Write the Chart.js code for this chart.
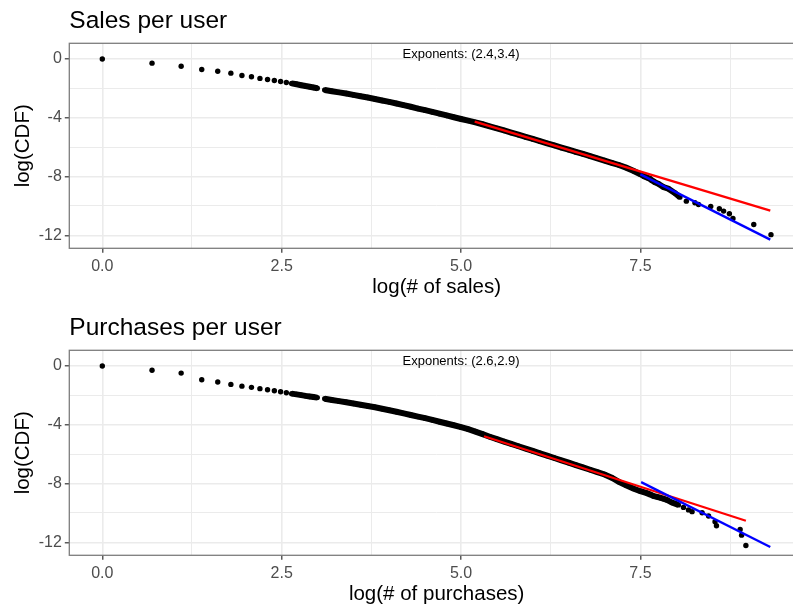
<!DOCTYPE html>
<html>
<head>
<meta charset="utf-8">
<script src="https://cdn.jsdelivr.net/npm/chart.js@4/dist/chart.umd.min.js"></script>
<style>
  html, body { margin: 0; padding: 0; background: #fff; overflow: hidden; }
  #wrap { position: relative; width: 793px; height: 607px; overflow: hidden; }
  canvas { position: absolute; left: 0; }
</style>
</head>
<body>
<div id="wrap">
  <canvas id="sales" width="820" height="300" style="top:0px"></canvas>
  <canvas id="purchases" width="820" height="300" style="top:307px"></canvas>
</div>
<script>
// log(# of sales) vs log(CDF)
const salesX = [0, 0.693, 1.099, 1.386, 1.609, 1.792, 1.946, 2.079, 2.197, 2.303, 2.398, 2.485,
  2.565, 2.639, 2.708, 2.773, 2.833, 2.890, 2.944, 2.996,
  3.1, 3.2, 3.3, 3.4, 3.5, 3.6, 3.7, 3.8, 3.9, 4.0, 4.1, 4.2, 4.3, 4.4, 4.5, 4.6, 4.7, 4.8, 4.9,
  5.0, 5.1, 5.2, 5.3, 5.4, 5.5, 5.6, 5.7, 5.8, 5.9, 6.0, 6.1, 6.2, 6.3, 6.4, 6.5, 6.6, 6.7, 6.8, 6.9,
  7.0, 7.1, 7.2, 7.3, 7.4, 7.5,
  7.55, 7.59, 7.63, 7.66, 7.70, 7.75, 7.82, 7.89, 7.98, 8.05, 8.14, 8.26, 8.31, 8.48, 8.60, 8.66,
  8.74, 8.79, 9.08, 9.32];
const salesY = [0, -0.28, -0.49, -0.71, -0.83, -0.96, -1.12, -1.21, -1.32, -1.39, -1.46, -1.53,
  -1.60, -1.66, -1.72, -1.78, -1.84, -1.89, -1.94, -1.99,
  -2.11, -2.19, -2.27, -2.35, -2.44, -2.53, -2.62, -2.72, -2.82, -2.92, -3.03, -3.14, -3.25, -3.37,
  -3.48, -3.60, -3.72, -3.84, -3.96,
  -4.08, -4.19, -4.31, -4.44, -4.58, -4.72, -4.86, -5.01, -5.15, -5.30, -5.44, -5.59, -5.74, -5.88,
  -6.03, -6.17, -6.32, -6.46, -6.61, -6.76,
  -6.91, -7.06, -7.21, -7.39, -7.60, -7.84,
  -7.98, -8.06, -8.14, -8.26, -8.38, -8.49, -8.71, -8.83, -9.12, -9.40, -9.67, -9.78, -9.90, -10.03,
  -10.19, -10.35, -10.53, -10.85, -11.26, -11.95];
const salesRedX = [5.19, 9.31];
const salesRedY = [-4.26, -10.31];
const salesBlueX = [7.50, 9.31];
const salesBlueY = [-7.85, -12.29];

// log(# of purchases) vs log(CDF)
const purchX = [0, 0.693, 1.099, 1.386, 1.609, 1.792, 1.946, 2.079, 2.197, 2.303, 2.398, 2.485,
  2.565, 2.639, 2.708, 2.773, 2.833, 2.890, 2.944, 2.996,
  3.1, 3.2, 3.3, 3.4, 3.5, 3.6, 3.7, 3.8, 3.9, 4.0, 4.1, 4.2, 4.3, 4.4, 4.5, 4.6, 4.7, 4.8, 4.9,
  5.0, 5.1, 5.2, 5.3, 5.4, 5.5, 5.6, 5.7, 5.8, 5.9, 6.0, 6.1, 6.2, 6.3, 6.4, 6.5, 6.6, 6.7, 6.8, 6.9,
  7.0, 7.1, 7.2, 7.3, 7.4, 7.5,
  7.59, 7.64, 7.68, 7.73, 7.77, 7.82, 7.87, 7.94, 8.03, 8.10, 8.17, 8.22, 8.36, 8.45, 8.54, 8.56,
  8.89, 8.91, 8.97];
const purchY = [0, -0.29, -0.48, -0.93, -1.09, -1.25, -1.37, -1.45, -1.54, -1.61, -1.68, -1.75,
  -1.82, -1.88, -1.93, -1.98, -2.03, -2.07, -2.11, -2.15,
  -2.23, -2.31, -2.39, -2.47, -2.55, -2.64, -2.72, -2.81, -2.91, -3.01, -3.11, -3.22, -3.33, -3.44,
  -3.55, -3.67, -3.79, -3.91, -4.03,
  -4.16, -4.30, -4.46, -4.63, -4.81, -4.98, -5.14, -5.30, -5.46, -5.62, -5.78, -5.94, -6.10, -6.26,
  -6.42, -6.58, -6.74, -6.90, -7.06, -7.22,
  -7.38, -7.60, -7.88, -8.12, -8.33, -8.52,
  -8.65, -8.75, -8.84, -8.90, -8.95, -9.03, -9.11, -9.29, -9.45, -9.62, -9.79, -9.91, -9.98, -10.21,
  -10.60, -10.87, -11.12, -11.51, -12.21];
const purchRedX = [5.32, 8.97];
const purchRedY = [-4.78, -10.53];
const purchBlueX = [7.51, 9.31];
const purchBlueY = [-7.90, -12.31];

const xTicks = [0, 1.25, 2.5, 3.75, 5, 6.25, 7.5, 8.75];
const yTicks = [-12, -10, -8, -6, -4, -2, 0];
const noteX = 5.0;
const noteY = 0.3;

const FONT = '"Liberation Sans", Arial, Helvetica, sans-serif';
const GRID = '#ebebeb';

const isMajorX = v => Math.abs(v / 2.5 - Math.round(v / 2.5)) < 1e-6;
const isMajorY = v => v % 4 === 0;

const pairs = (xs, ys) => xs.map((x, i) => ({ x: x, y: ys[i] }));

// thick line only through the dense band of points
const bandColor = ctx => {
  const a = ctx.p0.parsed.x, b = ctx.p1.parsed.x;
  return (a >= 2.6 && b - a <= 0.101 && b <= 8.06) ? '#000' : 'rgba(0,0,0,0)';
};

const panelExtras = {
  id: 'panelExtras',
  afterDatasetsDraw(chart, args, opts) {
    const { ctx, chartArea: a, scales } = chart;
    ctx.save();
    ctx.fillStyle = '#000';
    ctx.font = '13px ' + FONT;
    ctx.textAlign = 'center';
    ctx.textBaseline = 'middle';
    ctx.fillText(opts.note, scales.x.getPixelForValue(noteX), scales.y.getPixelForValue(noteY));
    ctx.strokeStyle = '#7d7d7d';
    ctx.lineWidth = 1.3;
    ctx.strokeRect(a.left, a.top, a.width, a.height);
    ctx.restore();
  }
};

const createPanel = (id, title, xTitle, note, xs, ys, redX, redY, blueX, blueY) => {
  const data = {
    datasets: [
      {
        data: pairs(blueX, blueY),
        showLine: true,
        borderColor: '#0000ff',
        borderWidth: 2.3,
        pointRadius: 0,
        order: 0
      },
      {
        data: pairs(redX, redY),
        showLine: true,
        borderColor: '#ff0000',
        borderWidth: 2.3,
        pointRadius: 0,
        order: 1
      },
      {
        data: pairs(xs, ys),
        showLine: true,
        borderWidth: 6,
        borderColor: '#000',
        segment: { borderColor: bandColor },
        pointRadius: 2.7,
        pointBackgroundColor: '#000',
        pointBorderWidth: 0,
        order: 2
      }
    ]
  };

  const options = {
    responsive: false,
    animation: false,
    devicePixelRatio: 1,
    layout: { padding: { left: 0, right: 16, top: 0, bottom: 0 } },
    events: [],
    plugins: {
      legend: { display: false },
      tooltip: { enabled: false },
      title: {
        display: true,
        text: title,
        align: 'start',
        fullSize: false,
        color: '#000',
        font: { family: FONT, size: 24.5, weight: 'normal' },
        padding: { top: 6.8, bottom: 7.1 }
      },
      panelExtras: { note: note }
    },
    scales: {
      x: {
        type: 'linear',
        min: -0.46,
        max: 9.78,
        afterBuildTicks: s => { s.ticks = xTicks.map(v => ({ value: v })); },
        afterFit: s => { s.height = 51.7; },
        ticks: {
          autoSkip: false,
          maxRotation: 0,
          padding: 4,
          color: '#4d4d4d',
          font: { family: FONT, size: 16 },
          callback: v => isMajorX(v) ? v.toFixed(1) : ''
        },
        grid: {
          color: GRID,
          lineWidth: c => isMajorX(c.tick.value) ? 1.6 : 1,
          drawTicks: true,
          tickLength: 4.5,
          tickWidth: 1.2,
          tickColor: c => isMajorX(c.tick.value) ? '#333' : 'rgba(0,0,0,0)'
        },
        border: { display: false },
        title: {
          display: true,
          text: xTitle,
          color: '#000',
          font: { family: FONT, size: 20.5 },
          padding: { top: 0, bottom: 0 }
        }
      },
      y: {
        type: 'linear',
        min: -12.88,
        max: 1.07,
        afterBuildTicks: s => { s.ticks = yTicks.map(v => ({ value: v })); },
        afterFit: s => { s.width = 69.3; },
        ticks: {
          autoSkip: false,
          padding: 3,
          color: '#4d4d4d',
          font: { family: FONT, size: 16 },
          callback: v => isMajorY(v) ? String(v) : ''
        },
        grid: {
          color: GRID,
          lineWidth: c => isMajorY(c.tick.value) ? 1.6 : 1,
          drawTicks: true,
          tickLength: 4.5,
          tickWidth: 1.2,
          tickColor: c => isMajorY(c.tick.value) ? '#333' : 'rgba(0,0,0,0)'
        },
        border: { display: false },
        title: {
          display: true,
          text: 'log(CDF)',
          color: '#000',
          font: { family: FONT, size: 20.5 },
          padding: { top: 10.7, bottom: 0 }
        }
      }
    }
  };

  return new Chart(document.getElementById(id), {
    type: 'scatter',
    data: data,
    options: options,
    plugins: [panelExtras]
  });
};

createPanel('sales', 'Sales per user', 'log(# of sales)', 'Exponents: (2.4,3.4)',
  salesX, salesY, salesRedX, salesRedY, salesBlueX, salesBlueY);
createPanel('purchases', 'Purchases per user', 'log(# of purchases)', 'Exponents: (2.6,2.9)',
  purchX, purchY, purchRedX, purchRedY, purchBlueX, purchBlueY);
</script>
</body>
</html>
